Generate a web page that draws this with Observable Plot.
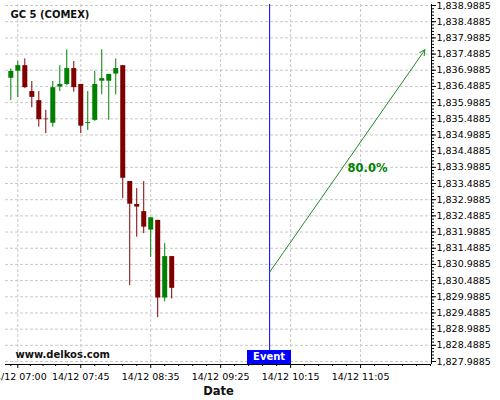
<!DOCTYPE html>
<html>
<head>
<meta charset="utf-8">
<script src="https://cdn.jsdelivr.net/npm/d3@7"></script>
<script src="https://cdn.jsdelivr.net/npm/@observablehq/plot@0.6"></script>
<style>
  body { margin: 0; background: #fff; }
  #wrap { position: relative; width: 500px; height: 400px; }
  #evt { position: absolute; background: #0000ff; color: #fff; font: bold 10px "DejaVu Sans", sans-serif;
         text-align: center; line-height: 14px; height: 14px; width: 44px; }
</style>
</head>
<body>
<div id="wrap"></div>
<script>
const day = "2023-12-14";
const times  = ["06:55","07:00","07:05","07:10","07:15","07:20","07:25","07:30","07:35","07:40","07:45","07:50",
                "07:55","08:00","08:05","08:10","08:15","08:20","08:25","08:30","08:35","08:40","08:45","08:50"];
const opens  = [1836.74,1836.96,1837.13,1836.33,1836.05,1835.48,1835.35,1836.47,1836.55,1837.04,1836.55,1835.34,
                1835.44,1836.65,1836.65,1836.87,1837.13,1833.55,1832.84,1832.62,1832.05,1832.35,1829.95,1831.23];
const highs  = [1837.03,1837.26,1837.34,1836.64,1836.33,1835.75,1836.64,1837.13,1837.62,1837.26,1836.55,1836.33,
                1836.95,1837.62,1836.86,1837.34,1837.13,1833.55,1833.33,1833.55,1832.43,1832.35,1831.63,1831.23];
const lows   = [1836.05,1836.14,1836.43,1835.83,1835.23,1835.03,1835.23,1836.33,1836.51,1836.31,1835.03,1835.13,
                1835.41,1836.23,1835.44,1836.23,1833.02,1830.33,1831.83,1831.94,1831.21,1829.34,1829.83,1829.92];
const closes = [1836.95,1837.13,1836.45,1836.15,1835.46,1835.46,1836.45,1836.55,1837.04,1836.45,1835.26,1835.37,
                1836.55,1836.73,1836.86,1837.04,1833.65,1832.85,1832.76,1832.14,1832.43,1829.95,1831.23,1830.25];

const yTickValues = [1827.9885,1828.4885,1828.9885,1829.4885,1829.9885,1830.4885,1830.9885,1831.4885,
                     1831.9885,1832.4885,1832.9885,1833.4885,1833.9885,1834.4885,1834.9885,1835.4885,
                     1835.9885,1836.4885,1836.9885,1837.4885,1837.9885,1838.4885,1838.9885];
const xTickTimes = ["07:00","07:45","08:35","09:25","10:15","11:05"];

const eventTime = "10:00";
const arrowStart = {time: "10:00", value: 1830.75};
const arrowEnd   = {time: "11:51", value: 1837.62};
const probLabel  = {time: "11:10", value: 1833.96, text: "80.0%"};
const title = "GC 5 (COMEX)";
const watermark = "www.delkos.com";

const T = t => new Date(`${day}T${t.length === 5 ? t + ":00" : t}Z`);
const up = "#008000", down = "#800000";

const candles = times.map((t, i) => ({
  date: T(t), open: opens[i], high: highs[i], low: lows[i], close: closes[i],
  color: closes[i] >= opens[i] ? up : down
}));

const xDomain = [T("06:51:12"), T("11:55:42")];
const yDomain = [1827.896, 1839.02];
const xTicks = xTickTimes.map(T);

const xMinor = [];
for (let i = 0; i < xTicks.length - 1; i++) {
  const a = +xTicks[i], b = +xTicks[i + 1];
  for (let k = 1; k < 5; k++) xMinor.push(new Date(a + (b - a) * k / 5));
}
for (let k = 1; k < 6; k++) xMinor.push(new Date(+xTicks[xTicks.length - 1] + k * 600000));
xMinor.push(new Date(+xTicks[0] - 600000 * 0.5));
const yMinor = d3.range(0, 112).map(i => 1827.9885 + i * 0.1).filter(v => v <= yDomain[1]);

const gridStyle = {stroke: "#c8c8c8", strokeOpacity: 1, strokeDasharray: "3,2", strokeWidth: 1};

const chart = Plot.plot({
  width: 500, height: 400,
  marginTop: 4, marginRight: 69, marginBottom: 36, marginLeft: 5,
  style: {fontFamily: "DejaVu Sans, sans-serif", fontSize: "9.5px", color: "#000", background: "#fff", overflow: "visible"},
  x: {type: "utc", domain: xDomain},
  y: {domain: yDomain},
  marks: [
    Plot.gridY(yTickValues, gridStyle),
    Plot.gridX(xTicks, gridStyle),
    Plot.ruleX(candles, {x: "date", y1: "low", y2: "high", stroke: "color", strokeWidth: 1}),
    Plot.ruleX(candles, {x: "date", y1: "open", y2: "close", stroke: "color", strokeWidth: 5, strokeLinecap: "butt"}),
    Plot.ruleX([T(eventTime)], {x: d => d, stroke: "#0000ff", strokeWidth: 1}),
    Plot.arrow([{x1: T(arrowStart.time), y1: arrowStart.value, x2: T(arrowEnd.time), y2: arrowEnd.value}],
      {x1: "x1", y1: "y1", x2: "x2", y2: "y2", stroke: "#228b22", strokeWidth: 1, headLength: 9, headAngle: 55}),
    Plot.text([probLabel], {x: d => T(d.time), y: "value", text: "text", fill: "#008000",
      fontWeight: "bold", fontSize: 11.5}),
    Plot.text([title], {frameAnchor: "top-left", dx: 5, dy: 6, textAnchor: "start", fontWeight: "bold", fontSize: 10, fill: "#111"}),
    Plot.text([watermark], {frameAnchor: "bottom-left", dx: 10, dy: -7, textAnchor: "start", lineAnchor: "bottom",
      fontWeight: "bold", fontSize: 10, fill: "#111"}),
    Plot.ruleX([xDomain[1]], {stroke: "#000", strokeWidth: 1}),
    Plot.ruleY([yDomain[0]], {stroke: "#000", strokeWidth: 1}),
    Plot.axisY(yTickValues, {anchor: "right", tickSize: 4, tickPadding: 1, tickFormat: d3.format(",.4f"), label: null}),
    Plot.axisY(yMinor, {anchor: "right", tickSize: 2, tickFormat: () => "", label: null}),
    Plot.axisX(xTicks, {anchor: "bottom", tickSize: 4, tickPadding: 5, tickFormat: d3.utcFormat("%d/%m %H:%M"), label: null}),
    Plot.axisX(xMinor, {anchor: "bottom", tickSize: 2, tickFormat: () => "", label: null}),
    Plot.text(["Date"], {frameAnchor: "bottom", dy: 30, fontWeight: "bold", fontSize: 11.5, fill: "#111"})
  ]
});

const wrap = document.getElementById("wrap");
wrap.appendChild(chart);
const ex = chart.scale("x").apply(T(eventTime));
const ey = chart.scale("y").apply(yDomain[0]);
const evt = document.createElement("div");
evt.id = "evt";
evt.textContent = "Event";
evt.style.left = (ex - 22) + "px";
evt.style.top = (ey - 14) + "px";
wrap.appendChild(evt);
</script>
</body>
</html>
